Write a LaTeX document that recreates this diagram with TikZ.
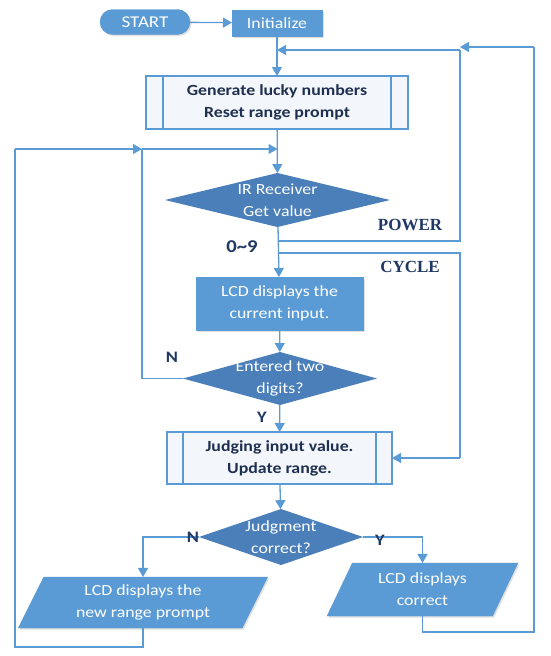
\documentclass[tikz,border=0pt]{standalone}
\usepackage{fontspec}
\setmainfont{Carlito}[FakeStretch=1.15]
\newfontfamily\serifx{Liberation Serif}
\usetikzlibrary{shapes.geometric,arrows.meta,shadows}
\definecolor{lineblue}{HTML}{5B9BD5}
\definecolor{boxblue}{HTML}{5B9BD5}
\definecolor{diablue}{HTML}{4A7FBA}
\definecolor{navy}{HTML}{1F2F4F}
\definecolor{lbl}{HTML}{1F3864}
\definecolor{pale}{HTML}{F3F6FB}
\tikzset{
  base/.style={inner sep=0pt, outer sep=0pt, font=\fontsize{15.5}{22}\selectfont, align=center},
  filledbox/.style={base, rectangle, fill=boxblue, draw=boxblue, text=white,
     drop shadow={opacity=0.25, shadow xshift=1.5pt, shadow yshift=-1.5pt}},
  procbox/.style={base, rectangle, fill=pale, draw=lineblue, line width=1.2pt, text=navy, font=\fontsize{15.5}{22}\selectfont\bfseries},
  decis/.style={base, diamond, fill=diablue, draw=none},
  dtext/.style={base, text=white},
  para/.style={base, trapezium, trapezium left angle=64, trapezium right angle=116,
     trapezium stretches=true, fill=boxblue, draw=boxblue, text=white,
     drop shadow={opacity=0.25, shadow xshift=1.5pt, shadow yshift=-1.5pt}},
  conn/.style={draw=lineblue, line width=1.3pt},
  arr/.style={conn, -{Triangle[width=10pt,length=9pt]}},
  yn/.style={inner sep=0pt, text=lbl, font=\fontsize{16}{18}\selectfont\bfseries},
  bigl/.style={inner sep=0pt, text=lbl, font=\serifx\fontsize{17}{20}\selectfont\bfseries},
}
\begin{document}
\begin{tikzpicture}[x=1pt,y=-1pt]
\useasboundingbox (0,0) rectangle (551,656);
\fill[white] (0,0) rectangle (551,656);
% nodes
\node[filledbox, rounded corners=12.5pt, minimum width=90pt, minimum height=25pt, font=\fontsize{16.5}{20}\selectfont] (start) at (145,22) {START};
\node[filledbox, minimum width=90pt, minimum height=26pt] (init) at (277,23) {Initialize};
\node[procbox, minimum width=262pt, minimum height=53pt] (gen) at (277,102.5) {Generate lucky numbers\\Reset range prompt};
\draw[lineblue, line width=1.2pt] ([xshift=17pt]gen.north west) -- ([xshift=17pt]gen.south west);
\draw[lineblue, line width=1.2pt] ([xshift=-17pt]gen.north east) -- ([xshift=-17pt]gen.south east);
\node[decis, minimum width=225pt, minimum height=54pt] (ir) at (277.5,200) {};
\node[dtext] (irt) at (ir.center) {IR Receiver\\Get value};
\node[filledbox, minimum width=167pt, minimum height=53pt] (lcd) at (279.5,303.5) {LCD displays the\\current input.};
\node[decis, minimum width=194pt, minimum height=53pt] (ent) at (280,378.5) {};
\node[dtext] (entt) at (ent.center) {Entered two\\digits?};
\node[procbox, minimum width=225pt, minimum height=52pt] (judge) at (279.5,458) {Judging input value.\\Update range.};
\draw[lineblue, line width=1.2pt] ([xshift=16pt]judge.north west) -- ([xshift=16pt]judge.south west);
\draw[lineblue, line width=1.2pt] ([xshift=-16pt]judge.north east) -- ([xshift=-16pt]judge.south east);
\node[decis, minimum width=164pt, minimum height=56pt] (jdg) at (281,537) {};
\node[dtext] (jdgt) at (jdg.center) {Judgment\\correct?};
\node[para, minimum width=250pt, minimum height=51pt] (lcdl) at (143,602.5) {LCD displays the\\new range prompt};
\node[para, minimum width=191pt, minimum height=53pt] (lcdr) at (422.5,589.5) {LCD displays\\correct};
% coordinates
\coordinate (pw) at (277.5,241);
\coordinate (cy) at (277.5,253);
\coordinate (top) at (277,50);
\coordinate (fb) at (277.5,149);
\coordinate (fbl) at (142,149);
\coordinate (pwr) at (460,241);
\coordinate (pwt) at (460,50);
\coordinate (cyr) at (460,253);
\coordinate (cyb) at (460,458);
\coordinate (outb) at (534,632);
\coordinate (outt) at (534,47);
\coordinate (outl) at (460,47);
% connectors
\draw[arr] (start) -- (init);
\draw[arr] (init) -- (gen);
\draw[arr] (gen) -- (ir);
\draw[arr] (ir) -- (lcd);
\draw[arr] (lcd) -- (ent);
\draw[arr] (ent) -- (judge);
\draw[arr] (judge) -- (jdg);
\draw[conn] (pw) -- (pwr) -- (pwt);
\draw[arr] (pwt) -- (top);
\draw[conn] (cy) -- (cyr) -- (cyb);
\draw[arr] (cyb) -- (judge.east);
\draw[conn] (ent.west) -| (fbl);
\draw[arr] (fbl) -- (fb);
\draw[arr] (jdg.west) -| (lcdl.north);
\draw[arr] (jdg.east) -| (lcdr.north);
\draw[conn] (lcdl.south) -- ++(0,19) -| (15,149) coordinate (ol);
\draw[arr] (ol) -- (fbl);
\draw[conn] (lcdr.south) |- (outb) -- (outt);
\draw[arr] (outt) -- (outl);
% labels
\node[yn, font=\fontsize{18}{20}\selectfont\bfseries] (l09) at (242,247) {0\textasciitilde9};
\node[bigl] (lpw) at (410,225) {POWER};
\node[bigl] (lcy) at (410,267) {CYCLE};
\node[yn] (n1) at (172,357) {N};
\node[yn] (y1) at (262,417) {Y};
\node[yn] (n2) at (193,537) {N};
\node[yn] (y2) at (380,540) {Y};
\end{tikzpicture}
\end{document}
